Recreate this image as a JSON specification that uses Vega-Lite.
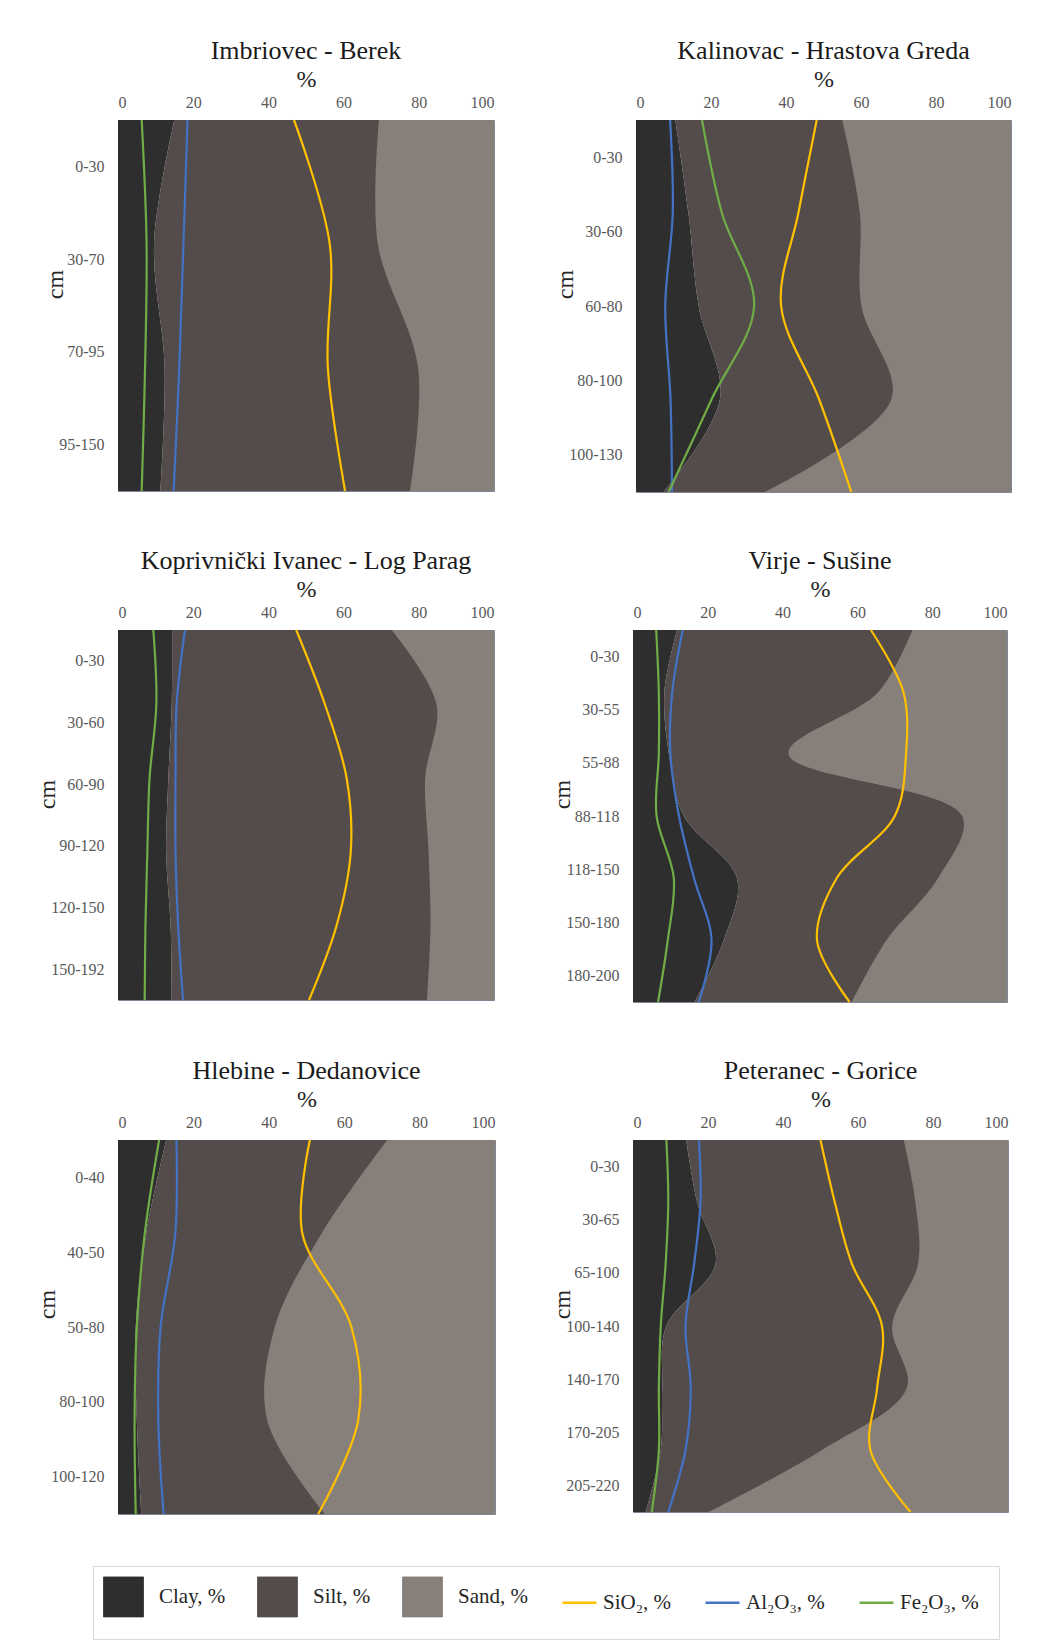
{
  "$schema": "https://vega.github.io/schema/vega-lite/v6.json",
  "padding": {"left": 35, "top": 37, "right": 10, "bottom": 8},
  "background": "white",
  "datasets": {
    "soil": [
      {"site": "Imbriovec - Berek", "i": 0, "Clay": 15.0, "Silt": 54.4, "Sand": 30.6, "SiO2": 46.8, "Al2O3": 18.5, "Fe2O3": 6.3},
      {"site": "Imbriovec - Berek", "i": 1, "Clay": 9.6, "Silt": 59.5, "Sand": 30.9, "SiO2": 56.3, "Al2O3": 17.4, "Fe2O3": 7.6},
      {"site": "Imbriovec - Berek", "i": 2, "Clay": 12.4, "Silt": 67.4, "Sand": 20.2, "SiO2": 55.8, "Al2O3": 16.3, "Fe2O3": 7.2},
      {"site": "Imbriovec - Berek", "i": 3, "Clay": 11.3, "Silt": 66.4, "Sand": 22.3, "SiO2": 60.4, "Al2O3": 14.8, "Fe2O3": 6.3},
      {"site": "Kalinovac - Hrastova Greda", "i": 0, "Clay": 10.5, "Silt": 44.5, "Sand": 45.0, "SiO2": 48.2, "Al2O3": 9.1, "Fe2O3": 17.6},
      {"site": "Kalinovac - Hrastova Greda", "i": 1, "Clay": 14.0, "Silt": 45.7, "Sand": 40.3, "SiO2": 43.3, "Al2O3": 9.8, "Fe2O3": 22.9},
      {"site": "Kalinovac - Hrastova Greda", "i": 2, "Clay": 16.7, "Silt": 43.4, "Sand": 39.9, "SiO2": 38.7, "Al2O3": 7.8, "Fe2O3": 31.5},
      {"site": "Kalinovac - Hrastova Greda", "i": 3, "Clay": 22.4, "Silt": 45.7, "Sand": 31.9, "SiO2": 48.8, "Al2O3": 9.2, "Fe2O3": 20.2},
      {"site": "Kalinovac - Hrastova Greda", "i": 4, "Clay": 7.4, "Silt": 27.0, "Sand": 65.6, "SiO2": 57.4, "Al2O3": 9.6, "Fe2O3": 8.7},
      {"site": "Koprivnički Ivanec - Log Parag", "i": 0, "Clay": 14.4, "Silt": 58.4, "Sand": 27.2, "SiO2": 47.4, "Al2O3": 17.8, "Fe2O3": 9.4},
      {"site": "Koprivnički Ivanec - Log Parag", "i": 1, "Clay": 14.3, "Silt": 70.4, "Sand": 15.3, "SiO2": 55.0, "Al2O3": 15.6, "Fe2O3": 10.2},
      {"site": "Koprivnički Ivanec - Log Parag", "i": 2, "Clay": 13.4, "Silt": 68.3, "Sand": 18.3, "SiO2": 60.8, "Al2O3": 15.3, "Fe2O3": 8.4},
      {"site": "Koprivnički Ivanec - Log Parag", "i": 3, "Clay": 12.8, "Silt": 69.8, "Sand": 17.4, "SiO2": 61.9, "Al2O3": 15.3, "Fe2O3": 7.8},
      {"site": "Koprivnički Ivanec - Log Parag", "i": 4, "Clay": 14.0, "Silt": 69.1, "Sand": 16.9, "SiO2": 58.1, "Al2O3": 16.0, "Fe2O3": 7.3},
      {"site": "Koprivnički Ivanec - Log Parag", "i": 5, "Clay": 14.3, "Silt": 67.9, "Sand": 17.8, "SiO2": 50.8, "Al2O3": 17.3, "Fe2O3": 7.1},
      {"site": "Virje - Sušine", "i": 0, "Clay": 11.8, "Silt": 62.9, "Sand": 25.3, "SiO2": 63.6, "Al2O3": 13.3, "Fe2O3": 6.2},
      {"site": "Virje - Sušine", "i": 1, "Clay": 8.4, "Silt": 57.2, "Sand": 34.4, "SiO2": 72.3, "Al2O3": 10.5, "Fe2O3": 6.9},
      {"site": "Virje - Sušine", "i": 2, "Clay": 9.6, "Silt": 32.0, "Sand": 58.4, "SiO2": 73.0, "Al2O3": 10.0, "Fe2O3": 6.9},
      {"site": "Virje - Sušine", "i": 3, "Clay": 13.6, "Silt": 74.4, "Sand": 12.0, "SiO2": 70.0, "Al2O3": 12.3, "Fe2O3": 6.3},
      {"site": "Virje - Sušine", "i": 4, "Clay": 27.8, "Silt": 53.8, "Sand": 18.4, "SiO2": 54.5, "Al2O3": 16.3, "Fe2O3": 10.9},
      {"site": "Virje - Sušine", "i": 5, "Clay": 24.3, "Silt": 43.5, "Sand": 32.2, "SiO2": 49.2, "Al2O3": 21.0, "Fe2O3": 9.3},
      {"site": "Virje - Sušine", "i": 6, "Clay": 16.5, "Silt": 42.0, "Sand": 41.5, "SiO2": 57.9, "Al2O3": 17.6, "Fe2O3": 6.7},
      {"site": "Hlebine - Dedanovice", "i": 0, "Clay": 12.8, "Silt": 58.6, "Sand": 28.6, "SiO2": 50.9, "Al2O3": 15.5, "Fe2O3": 10.9},
      {"site": "Hlebine - Dedanovice", "i": 1, "Clay": 7.5, "Silt": 46.5, "Sand": 46.0, "SiO2": 48.9, "Al2O3": 15.2, "Fe2O3": 7.1},
      {"site": "Hlebine - Dedanovice", "i": 2, "Clay": 4.7, "Silt": 36.9, "Sand": 58.4, "SiO2": 61.9, "Al2O3": 11.3, "Fe2O3": 5.0},
      {"site": "Hlebine - Dedanovice", "i": 3, "Clay": 5.0, "Silt": 34.6, "Sand": 60.4, "SiO2": 63.7, "Al2O3": 10.7, "Fe2O3": 4.4},
      {"site": "Hlebine - Dedanovice", "i": 4, "Clay": 6.2, "Silt": 48.7, "Sand": 45.1, "SiO2": 53.1, "Al2O3": 12.1, "Fe2O3": 4.7},
      {"site": "Peteranec - Gorice", "i": 0, "Clay": 14.2, "Silt": 58.0, "Sand": 27.8, "SiO2": 50.0, "Al2O3": 17.6, "Fe2O3": 8.9},
      {"site": "Peteranec - Gorice", "i": 1, "Clay": 17.1, "Silt": 58.2, "Sand": 24.7, "SiO2": 53.8, "Al2O3": 18.0, "Fe2O3": 9.4},
      {"site": "Peteranec - Gorice", "i": 2, "Clay": 22.0, "Silt": 54.0, "Sand": 24.0, "SiO2": 58.4, "Al2O3": 16.3, "Fe2O3": 8.7},
      {"site": "Peteranec - Gorice", "i": 3, "Clay": 8.9, "Silt": 60.2, "Sand": 30.9, "SiO2": 66.4, "Al2O3": 14.0, "Fe2O3": 7.4},
      {"site": "Peteranec - Gorice", "i": 4, "Clay": 7.8, "Silt": 65.2, "Sand": 27.0, "SiO2": 65.1, "Al2O3": 15.4, "Fe2O3": 6.9},
      {"site": "Peteranec - Gorice", "i": 5, "Clay": 7.4, "Silt": 43.0, "Sand": 49.6, "SiO2": 63.3, "Al2O3": 14.0, "Fe2O3": 6.9},
      {"site": "Peteranec - Gorice", "i": 6, "Clay": 3.4, "Silt": 16.8, "Sand": 79.8, "SiO2": 74.0, "Al2O3": 9.4, "Fe2O3": 5.0}
    ]
  },
  "config": {
    "font": "Liberation Serif",
    "view": {"stroke": "#7f8696", "strokeWidth": 1},
    "title": {"fontSize": 26, "fontWeight": "normal", "color": "#1a1a1a", "offset": 3, "frame": "group", "font": "Liberation Serif"},
    "axis": {"grid": false, "ticks": false, "domain": false, "labelFont": "Liberation Serif", "titleFont": "Liberation Serif", "labelColor": "#595959", "titleColor": "#262626", "titleFontWeight": "normal", "titleFontSize": 24},
    "axisX": {"labelFontSize": 16, "labelPadding": 10, "titlePadding": 3},
    "axisY": {"labelFontSize": 16, "labelPadding": 14, "titlePadding": -9, "titleY": 164},
    "legend": {"labelFont": "Liberation Serif"}
  },
  "spacing": 50,
  "resolve": {"scale": {"color": "shared"}, "legend": {"color": "shared"}},
  "vconcat": [
    {
      "spacing": 58,
      "resolve": {"scale": {"color": "shared"}, "legend": {"color": "shared"}},
      "hconcat": [
        {
          "title": {"text": "Imbriovec - Berek"},
          "width": 376, "height": 371,
          "data": {"name": "soil"},
          "transform": [{"filter": {"field": "site", "equal": "Imbriovec - Berek"}}],
          "encoding": {"y": {"field": "i", "type": "quantitative", "scale": {"domain": [0, 3], "reverse": true, "nice": false, "zero": false}, "axis": {"title": "cm", "values": [0.375, 1.125, 1.875, 2.625], "labelExpr": "['0-30','30-70','70-95','95-150'][round(datum.value * 4 / 3 - 0.5)]"}}},
          "resolve": {"scale": {"x": "independent"}},
          "layer": [
            {"mark": {"type": "area", "orient": "horizontal", "interpolate": "catmull-rom"},
             "encoding": {"x": {"field": "Clay", "type": "quantitative", "stack": null, "scale": {"domain": [0, 100], "nice": false}, "axis": null}, "x2": {"datum": 100}, "color": {"datum": "Silt", "scale": {"domain": ["Clay", "Silt", "Sand", "SiO2", "Al2O3", "Fe2O3"], "range": ["#2e2e2e", "#534c4b", "#877f7a", "#ffc000", "#4472c4", "#70ad47"]}}}},
            {"mark": {"type": "area", "orient": "horizontal", "interpolate": "catmull-rom"},
             "encoding": {"x": {"field": "Sand", "type": "quantitative", "stack": null, "scale": {"domain": [0, 100], "reverse": true, "nice": false}, "axis": null}, "x2": {"datum": 0}, "color": {"datum": "Sand", "scale": {"domain": ["Clay", "Silt", "Sand", "SiO2", "Al2O3", "Fe2O3"], "range": ["#2e2e2e", "#534c4b", "#877f7a", "#ffc000", "#4472c4", "#70ad47"]}}}},
            {"mark": {"type": "area", "orient": "horizontal", "interpolate": "catmull-rom"},
             "encoding": {"x": {"field": "Clay", "type": "quantitative", "stack": null, "scale": {"domain": [0, 100], "nice": false}, "axis": {"orient": "top", "title": "%", "values": [0, 20, 40, 60, 80, 100]}}, "x2": {"datum": 0}, "color": {"datum": "Clay", "scale": {"domain": ["Clay", "Silt", "Sand", "SiO2", "Al2O3", "Fe2O3"], "range": ["#2e2e2e", "#534c4b", "#877f7a", "#ffc000", "#4472c4", "#70ad47"]}}}},
            {"transform": [{"fold": ["SiO2", "Al2O3", "Fe2O3"], "as": ["series", "pct"]}],
             "mark": {"type": "line", "interpolate": "catmull-rom", "strokeWidth": 2.2},
             "encoding": {"x": {"field": "pct", "type": "quantitative", "scale": {"domain": [0, 100], "nice": false}, "axis": null}, "order": {"field": "i", "type": "quantitative"},
               "color": {"field": "series", "type": "nominal", "scale": {"domain": ["Clay", "Silt", "Sand", "SiO2", "Al2O3", "Fe2O3"], "range": ["#2e2e2e", "#534c4b", "#877f7a", "#ffc000", "#4472c4", "#70ad47"]},
                 "legend": {"title": null, "orient": "none", "legendX": -25, "legendY": 1446, "direction": "horizontal", "symbolSize": 1600, "symbolType": "square", "labelFontSize": 21, "labelColor": "#262626", "labelOffset": 25, "columnPadding": 29, "labelLimit": 200, "strokeColor": "#d9d9d9", "padding": 20,
                   "labelExpr": "['Clay, %','Silt, %','Sand, %','SiO₂, %','Al₂O₃, %','Fe₂O₃, %'][indexof(['Clay','Silt','Sand','SiO2','Al2O3','Fe2O3'], datum.value)]",
                   "encode": {
                     "labels": {"update": {"dx": {"signal": "indexof(['SiO2','Al2O3','Fe2O3'], datum.value) >= 0 ? -12 : 0"}}},
                     "symbols": {"update": {
                     "shape": {"signal": "indexof(['SiO2','Al2O3','Fe2O3'], datum.value) >= 0 ? 'stroke' : 'square'"},
                     "size": {"signal": "indexof(['SiO2','Al2O3','Fe2O3'], datum.value) >= 0 ? 1156 : 1600"},
                     "fill": {"signal": "indexof(['SiO2','Al2O3','Fe2O3'], datum.value) >= 0 ? 'transparent' : ['#2e2e2e','#534c4b','#877f7a'][indexof(['Clay','Silt','Sand'], datum.value)]"},
                     "stroke": {"signal": "indexof(['SiO2','Al2O3','Fe2O3'], datum.value) >= 0 ? ['#ffc000','#4472c4','#70ad47'][indexof(['SiO2','Al2O3','Fe2O3'], datum.value)] : '#a6a6a6'"},
                     "strokeWidth": {"signal": "indexof(['SiO2','Al2O3','Fe2O3'], datum.value) >= 0 ? 2.5 : 0.8"},
                     "opacity": {"value": 1}
                   }}}}}}}
          ]
        },
        {
          "title": {"text": "Kalinovac - Hrastova Greda"},
          "width": 375, "height": 372,
          "data": {"name": "soil"},
          "transform": [{"filter": {"field": "site", "equal": "Kalinovac - Hrastova Greda"}}],
          "encoding": {"y": {"field": "i", "type": "quantitative", "scale": {"domain": [0, 4], "reverse": true, "nice": false, "zero": false}, "axis": {"title": "cm", "values": [0.4, 1.2, 2.0, 2.8, 3.6], "labelExpr": "['0-30','30-60','60-80','80-100','100-130'][round(datum.value * 5 / 4 - 0.5)]"}}},
          "resolve": {"scale": {"x": "independent"}},
          "layer": [
            {"mark": {"type": "area", "orient": "horizontal", "interpolate": "catmull-rom"},
             "encoding": {"x": {"field": "Clay", "type": "quantitative", "stack": null, "scale": {"domain": [0, 100], "nice": false}, "axis": null}, "x2": {"datum": 100}, "color": {"datum": "Silt", "scale": {"domain": ["Clay", "Silt", "Sand", "SiO2", "Al2O3", "Fe2O3"], "range": ["#2e2e2e", "#534c4b", "#877f7a", "#ffc000", "#4472c4", "#70ad47"]}}}},
            {"mark": {"type": "area", "orient": "horizontal", "interpolate": "catmull-rom"},
             "encoding": {"x": {"field": "Sand", "type": "quantitative", "stack": null, "scale": {"domain": [0, 100], "reverse": true, "nice": false}, "axis": null}, "x2": {"datum": 0}, "color": {"datum": "Sand", "scale": {"domain": ["Clay", "Silt", "Sand", "SiO2", "Al2O3", "Fe2O3"], "range": ["#2e2e2e", "#534c4b", "#877f7a", "#ffc000", "#4472c4", "#70ad47"]}}}},
            {"mark": {"type": "area", "orient": "horizontal", "interpolate": "catmull-rom"},
             "encoding": {"x": {"field": "Clay", "type": "quantitative", "stack": null, "scale": {"domain": [0, 100], "nice": false}, "axis": {"orient": "top", "title": "%", "values": [0, 20, 40, 60, 80, 100]}}, "x2": {"datum": 0}, "color": {"datum": "Clay", "scale": {"domain": ["Clay", "Silt", "Sand", "SiO2", "Al2O3", "Fe2O3"], "range": ["#2e2e2e", "#534c4b", "#877f7a", "#ffc000", "#4472c4", "#70ad47"]}}}},
            {"transform": [{"fold": ["SiO2", "Al2O3", "Fe2O3"], "as": ["series", "pct"]}],
             "mark": {"type": "line", "interpolate": "catmull-rom", "strokeWidth": 2.2},
             "encoding": {"x": {"field": "pct", "type": "quantitative", "scale": {"domain": [0, 100], "nice": false}, "axis": null}, "order": {"field": "i", "type": "quantitative"},
               "color": {"field": "series", "type": "nominal", "scale": {"domain": ["Clay", "Silt", "Sand", "SiO2", "Al2O3", "Fe2O3"], "range": ["#2e2e2e", "#534c4b", "#877f7a", "#ffc000", "#4472c4", "#70ad47"]}}}}
          ]
        }
      ]
    },
    {
      "spacing": 55,
      "resolve": {"scale": {"color": "shared"}, "legend": {"color": "shared"}},
      "hconcat": [
        {
          "title": {"text": "Koprivnički Ivanec - Log Parag"},
          "width": 376, "height": 370,
          "data": {"name": "soil"},
          "transform": [{"filter": {"field": "site", "equal": "Koprivnički Ivanec - Log Parag"}}],
          "encoding": {"y": {"field": "i", "type": "quantitative", "scale": {"domain": [0, 5], "reverse": true, "nice": false, "zero": false}, "axis": {"title": "cm", "values": [0.4167, 1.25, 2.0833, 2.9167, 3.75, 4.5833], "labelExpr": "['0-30','30-60','60-90','90-120','120-150','150-192'][round(datum.value * 6 / 5 - 0.5)]"}}},
          "resolve": {"scale": {"x": "independent"}},
          "layer": [
            {"mark": {"type": "area", "orient": "horizontal", "interpolate": "catmull-rom"},
             "encoding": {"x": {"field": "Clay", "type": "quantitative", "stack": null, "scale": {"domain": [0, 100], "nice": false}, "axis": null}, "x2": {"datum": 100}, "color": {"datum": "Silt", "scale": {"domain": ["Clay", "Silt", "Sand", "SiO2", "Al2O3", "Fe2O3"], "range": ["#2e2e2e", "#534c4b", "#877f7a", "#ffc000", "#4472c4", "#70ad47"]}}}},
            {"mark": {"type": "area", "orient": "horizontal", "interpolate": "catmull-rom"},
             "encoding": {"x": {"field": "Sand", "type": "quantitative", "stack": null, "scale": {"domain": [0, 100], "reverse": true, "nice": false}, "axis": null}, "x2": {"datum": 0}, "color": {"datum": "Sand", "scale": {"domain": ["Clay", "Silt", "Sand", "SiO2", "Al2O3", "Fe2O3"], "range": ["#2e2e2e", "#534c4b", "#877f7a", "#ffc000", "#4472c4", "#70ad47"]}}}},
            {"mark": {"type": "area", "orient": "horizontal", "interpolate": "catmull-rom"},
             "encoding": {"x": {"field": "Clay", "type": "quantitative", "stack": null, "scale": {"domain": [0, 100], "nice": false}, "axis": {"orient": "top", "title": "%", "values": [0, 20, 40, 60, 80, 100]}}, "x2": {"datum": 0}, "color": {"datum": "Clay", "scale": {"domain": ["Clay", "Silt", "Sand", "SiO2", "Al2O3", "Fe2O3"], "range": ["#2e2e2e", "#534c4b", "#877f7a", "#ffc000", "#4472c4", "#70ad47"]}}}},
            {"transform": [{"fold": ["SiO2", "Al2O3", "Fe2O3"], "as": ["series", "pct"]}],
             "mark": {"type": "line", "interpolate": "catmull-rom", "strokeWidth": 2.2},
             "encoding": {"x": {"field": "pct", "type": "quantitative", "scale": {"domain": [0, 100], "nice": false}, "axis": null}, "order": {"field": "i", "type": "quantitative"},
               "color": {"field": "series", "type": "nominal", "scale": {"domain": ["Clay", "Silt", "Sand", "SiO2", "Al2O3", "Fe2O3"], "range": ["#2e2e2e", "#534c4b", "#877f7a", "#ffc000", "#4472c4", "#70ad47"]}}}}
          ]
        },
        {
          "title": {"text": "Virje - Sušine"},
          "width": 374, "height": 372,
          "data": {"name": "soil"},
          "transform": [{"filter": {"field": "site", "equal": "Virje - Sušine"}}],
          "encoding": {"y": {"field": "i", "type": "quantitative", "scale": {"domain": [0, 6], "reverse": true, "nice": false, "zero": false}, "axis": {"title": "cm", "values": [0.4286, 1.2857, 2.1429, 3.0, 3.8571, 4.7143, 5.5714], "labelExpr": "['0-30','30-55','55-88','88-118','118-150','150-180','180-200'][round(datum.value * 7 / 6 - 0.5)]"}}},
          "resolve": {"scale": {"x": "independent"}},
          "layer": [
            {"mark": {"type": "area", "orient": "horizontal", "interpolate": "catmull-rom"},
             "encoding": {"x": {"field": "Clay", "type": "quantitative", "stack": null, "scale": {"domain": [0, 100], "nice": false}, "axis": null}, "x2": {"datum": 100}, "color": {"datum": "Silt", "scale": {"domain": ["Clay", "Silt", "Sand", "SiO2", "Al2O3", "Fe2O3"], "range": ["#2e2e2e", "#534c4b", "#877f7a", "#ffc000", "#4472c4", "#70ad47"]}}}},
            {"mark": {"type": "area", "orient": "horizontal", "interpolate": "catmull-rom"},
             "encoding": {"x": {"field": "Sand", "type": "quantitative", "stack": null, "scale": {"domain": [0, 100], "reverse": true, "nice": false}, "axis": null}, "x2": {"datum": 0}, "color": {"datum": "Sand", "scale": {"domain": ["Clay", "Silt", "Sand", "SiO2", "Al2O3", "Fe2O3"], "range": ["#2e2e2e", "#534c4b", "#877f7a", "#ffc000", "#4472c4", "#70ad47"]}}}},
            {"mark": {"type": "area", "orient": "horizontal", "interpolate": "catmull-rom"},
             "encoding": {"x": {"field": "Clay", "type": "quantitative", "stack": null, "scale": {"domain": [0, 100], "nice": false}, "axis": {"orient": "top", "title": "%", "values": [0, 20, 40, 60, 80, 100]}}, "x2": {"datum": 0}, "color": {"datum": "Clay", "scale": {"domain": ["Clay", "Silt", "Sand", "SiO2", "Al2O3", "Fe2O3"], "range": ["#2e2e2e", "#534c4b", "#877f7a", "#ffc000", "#4472c4", "#70ad47"]}}}},
            {"transform": [{"fold": ["SiO2", "Al2O3", "Fe2O3"], "as": ["series", "pct"]}],
             "mark": {"type": "line", "interpolate": "catmull-rom", "strokeWidth": 2.2},
             "encoding": {"x": {"field": "pct", "type": "quantitative", "scale": {"domain": [0, 100], "nice": false}, "axis": null}, "order": {"field": "i", "type": "quantitative"},
               "color": {"field": "series", "type": "nominal", "scale": {"domain": ["Clay", "Silt", "Sand", "SiO2", "Al2O3", "Fe2O3"], "range": ["#2e2e2e", "#534c4b", "#877f7a", "#ffc000", "#4472c4", "#70ad47"]}}}}
          ]
        }
      ]
    },
    {
      "spacing": 54,
      "resolve": {"scale": {"color": "shared"}, "legend": {"color": "shared"}},
      "hconcat": [
        {
          "title": {"text": "Hlebine - Dedanovice"},
          "width": 377, "height": 374,
          "data": {"name": "soil"},
          "transform": [{"filter": {"field": "site", "equal": "Hlebine - Dedanovice"}}],
          "encoding": {"y": {"field": "i", "type": "quantitative", "scale": {"domain": [0, 4], "reverse": true, "nice": false, "zero": false}, "axis": {"title": "cm", "values": [0.4, 1.2, 2.0, 2.8, 3.6], "labelExpr": "['0-40','40-50','50-80','80-100','100-120'][round(datum.value * 5 / 4 - 0.5)]"}}},
          "resolve": {"scale": {"x": "independent"}},
          "layer": [
            {"mark": {"type": "area", "orient": "horizontal", "interpolate": "catmull-rom"},
             "encoding": {"x": {"field": "Clay", "type": "quantitative", "stack": null, "scale": {"domain": [0, 100], "nice": false}, "axis": null}, "x2": {"datum": 100}, "color": {"datum": "Silt", "scale": {"domain": ["Clay", "Silt", "Sand", "SiO2", "Al2O3", "Fe2O3"], "range": ["#2e2e2e", "#534c4b", "#877f7a", "#ffc000", "#4472c4", "#70ad47"]}}}},
            {"mark": {"type": "area", "orient": "horizontal", "interpolate": "catmull-rom"},
             "encoding": {"x": {"field": "Sand", "type": "quantitative", "stack": null, "scale": {"domain": [0, 100], "reverse": true, "nice": false}, "axis": null}, "x2": {"datum": 0}, "color": {"datum": "Sand", "scale": {"domain": ["Clay", "Silt", "Sand", "SiO2", "Al2O3", "Fe2O3"], "range": ["#2e2e2e", "#534c4b", "#877f7a", "#ffc000", "#4472c4", "#70ad47"]}}}},
            {"mark": {"type": "area", "orient": "horizontal", "interpolate": "catmull-rom"},
             "encoding": {"x": {"field": "Clay", "type": "quantitative", "stack": null, "scale": {"domain": [0, 100], "nice": false}, "axis": {"orient": "top", "title": "%", "values": [0, 20, 40, 60, 80, 100]}}, "x2": {"datum": 0}, "color": {"datum": "Clay", "scale": {"domain": ["Clay", "Silt", "Sand", "SiO2", "Al2O3", "Fe2O3"], "range": ["#2e2e2e", "#534c4b", "#877f7a", "#ffc000", "#4472c4", "#70ad47"]}}}},
            {"transform": [{"fold": ["SiO2", "Al2O3", "Fe2O3"], "as": ["series", "pct"]}],
             "mark": {"type": "line", "interpolate": "catmull-rom", "strokeWidth": 2.2},
             "encoding": {"x": {"field": "pct", "type": "quantitative", "scale": {"domain": [0, 100], "nice": false}, "axis": null}, "order": {"field": "i", "type": "quantitative"},
               "color": {"field": "series", "type": "nominal", "scale": {"domain": ["Clay", "Silt", "Sand", "SiO2", "Al2O3", "Fe2O3"], "range": ["#2e2e2e", "#534c4b", "#877f7a", "#ffc000", "#4472c4", "#70ad47"]}}}}
          ]
        },
        {
          "title": {"text": "Peteranec - Gorice"},
          "width": 375, "height": 372,
          "data": {"name": "soil"},
          "transform": [{"filter": {"field": "site", "equal": "Peteranec - Gorice"}}],
          "encoding": {"y": {"field": "i", "type": "quantitative", "scale": {"domain": [0, 6], "reverse": true, "nice": false, "zero": false}, "axis": {"title": "cm", "values": [0.4286, 1.2857, 2.1429, 3.0, 3.8571, 4.7143, 5.5714], "labelExpr": "['0-30','30-65','65-100','100-140','140-170','170-205','205-220'][round(datum.value * 7 / 6 - 0.5)]"}}},
          "resolve": {"scale": {"x": "independent"}},
          "layer": [
            {"mark": {"type": "area", "orient": "horizontal", "interpolate": "catmull-rom"},
             "encoding": {"x": {"field": "Clay", "type": "quantitative", "stack": null, "scale": {"domain": [0, 100], "nice": false}, "axis": null}, "x2": {"datum": 100}, "color": {"datum": "Silt", "scale": {"domain": ["Clay", "Silt", "Sand", "SiO2", "Al2O3", "Fe2O3"], "range": ["#2e2e2e", "#534c4b", "#877f7a", "#ffc000", "#4472c4", "#70ad47"]}}}},
            {"mark": {"type": "area", "orient": "horizontal", "interpolate": "catmull-rom"},
             "encoding": {"x": {"field": "Sand", "type": "quantitative", "stack": null, "scale": {"domain": [0, 100], "reverse": true, "nice": false}, "axis": null}, "x2": {"datum": 0}, "color": {"datum": "Sand", "scale": {"domain": ["Clay", "Silt", "Sand", "SiO2", "Al2O3", "Fe2O3"], "range": ["#2e2e2e", "#534c4b", "#877f7a", "#ffc000", "#4472c4", "#70ad47"]}}}},
            {"mark": {"type": "area", "orient": "horizontal", "interpolate": "catmull-rom"},
             "encoding": {"x": {"field": "Clay", "type": "quantitative", "stack": null, "scale": {"domain": [0, 100], "nice": false}, "axis": {"orient": "top", "title": "%", "values": [0, 20, 40, 60, 80, 100]}}, "x2": {"datum": 0}, "color": {"datum": "Clay", "scale": {"domain": ["Clay", "Silt", "Sand", "SiO2", "Al2O3", "Fe2O3"], "range": ["#2e2e2e", "#534c4b", "#877f7a", "#ffc000", "#4472c4", "#70ad47"]}}}},
            {"transform": [{"fold": ["SiO2", "Al2O3", "Fe2O3"], "as": ["series", "pct"]}],
             "mark": {"type": "line", "interpolate": "catmull-rom", "strokeWidth": 2.2},
             "encoding": {"x": {"field": "pct", "type": "quantitative", "scale": {"domain": [0, 100], "nice": false}, "axis": null}, "order": {"field": "i", "type": "quantitative"},
               "color": {"field": "series", "type": "nominal", "scale": {"domain": ["Clay", "Silt", "Sand", "SiO2", "Al2O3", "Fe2O3"], "range": ["#2e2e2e", "#534c4b", "#877f7a", "#ffc000", "#4472c4", "#70ad47"]}}}}
          ]
        }
      ]
    }
  ]
}
